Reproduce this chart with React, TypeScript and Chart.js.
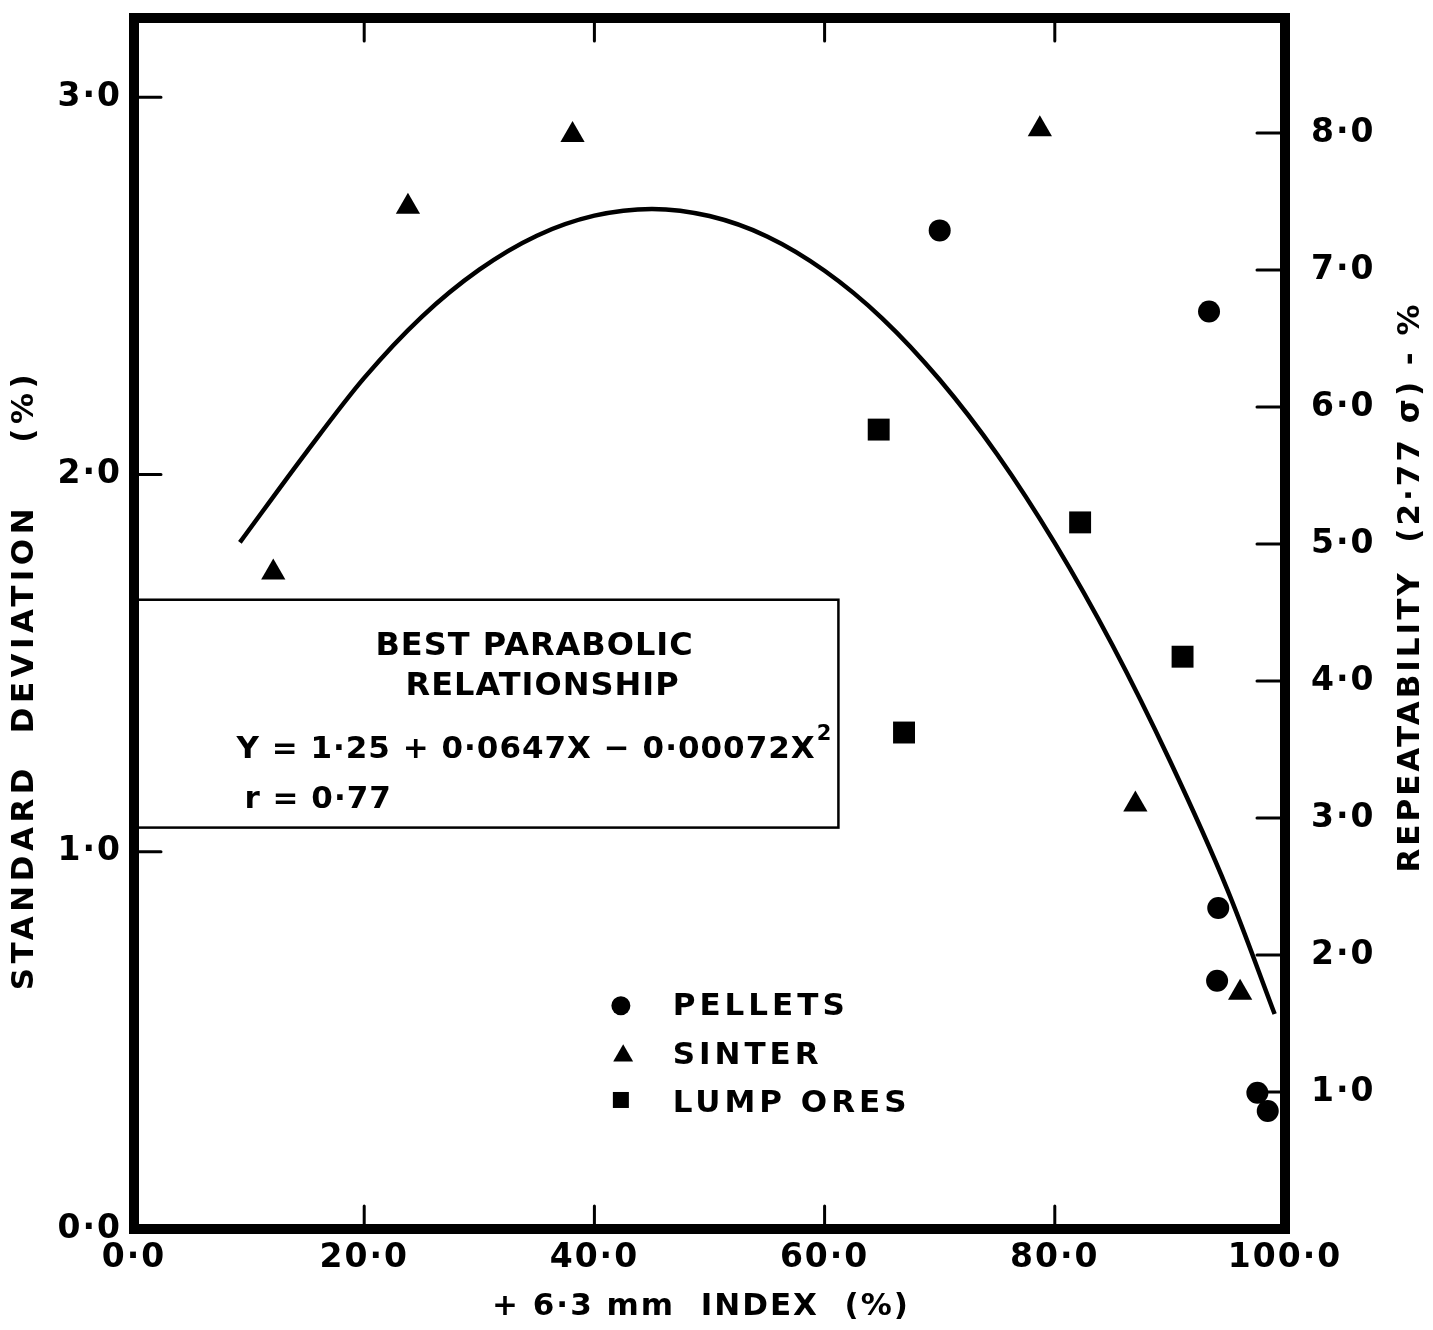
import React, { useEffect, useRef } from 'react';
import { Chart, registerables } from 'chart.js';

Chart.register(...registerables);

// ---------- data ----------
const X_TICKS = [0, 20, 40, 60, 80, 100];
const X_TICK_LABELS = ['0·0', '20·0', '40·0', '60·0', '80·0', '100·0'];
const Y_TICKS = [0, 1, 2, 3];
const Y_TICK_LABELS = ['0·0', '1·0', '2·0', '3·0'];
const Y2_TICKS = [1, 2, 3, 4, 5, 6, 7, 8];
const Y2_TICK_LABELS = ['1·0', '2·0', '3·0', '4·0', '5·0', '6·0', '7·0', '8·0'];

const PELLETS_X = [70.0, 93.4, 94.2, 94.1, 97.6, 98.5];
const PELLETS_Y = [2.647, 2.432, 0.851, 0.658, 0.361, 0.313];

const SINTER_X = [12.1, 23.8, 38.1, 78.7, 87.0, 96.1];
const SINTER_Y = [1.74, 2.71, 2.90, 2.915, 1.125, 0.626];

const LUMP_X = [64.7, 66.9, 82.2, 91.1];
const LUMP_Y = [2.119, 1.316, 1.873, 1.517];

const CURVE_X = [9.2, 15, 20, 25, 30, 35, 40, 45, 50, 55, 60, 65, 70, 75, 80, 85, 90, 95, 99.1];
const CURVE_Y = [1.82, 2.06, 2.256, 2.418, 2.543, 2.633, 2.686, 2.704, 2.685, 2.631, 2.54, 2.414, 2.251, 2.053, 1.818, 1.548, 1.241, 0.899, 0.57];

const LEGEND_LABELS = ['PELLETS', 'SINTER', 'LUMP ORES'];
const NOTE_LINES = ['BEST PARABOLIC', 'RELATIONSHIP', 'Y = 1·25 + 0·0647X − 0·00072X', '2', 'r = 0·77'];

const X_TITLE = '+ 6·3 mm  INDEX  (%)';
const Y_TITLE = 'STANDARD  DEVIATION    (%)';
const Y2_TITLE = 'REPEATABILITY  (2·77 σ) - %';

const FONT = '"DejaVu Sans", sans-serif';

const pts = (xs: number[], ys: number[]) => xs.map((x, i) => ({ x, y: ys[i] }));

function drawText(
  ctx: CanvasRenderingContext2D,
  text: string,
  x: number,
  y: number,
  size: number,
  align: CanvasTextAlign,
  ls: number,
  rotate = 0
): number {
  ctx.save();
  ctx.font = `bold ${size}px ${FONT}`;
  (ctx as any).letterSpacing = `${ls}px`;
  ctx.fillStyle = '#000';
  ctx.textAlign = align;
  ctx.textBaseline = 'middle';
  ctx.translate(x, y);
  if (rotate) ctx.rotate(rotate);
  ctx.fillText(text, 0, 0);
  const w = ctx.measureText(text).width;
  ctx.restore();
  return w;
}

const decorPlugin = {
  id: 'decor',
  beforeDraw(chart: any) {
    (chart.ctx as any).letterSpacing = '2px';
  },
  beforeDatasetsDraw(chart: any) {
    const { ctx, chartArea: ca, scales } = chart;
    const xs = scales.x, ys = scales.y, y2 = scales.y2;
    ctx.save();
    ctx.strokeStyle = '#000';
    ctx.lineWidth = 3;
    ctx.lineCap = 'round';
    ctx.beginPath();
    for (const v of [1, 2, 3]) {
      const py = ys.getPixelForValue(v);
      ctx.moveTo(ca.left + 4, py);
      ctx.lineTo(ca.left + 27, py);
    }
    for (const v of Y2_TICKS) {
      const py = y2.getPixelForValue(v);
      ctx.moveTo(ca.right - 4, py);
      ctx.lineTo(ca.right - 28, py);
    }
    for (const v of [20, 40, 60, 80]) {
      const px = xs.getPixelForValue(v);
      ctx.moveTo(px, ca.top + 4);
      ctx.lineTo(px, ca.top + 23);
      ctx.moveTo(px, ca.bottom - 4);
      ctx.lineTo(px, ca.bottom - 23);
    }
    ctx.stroke();
    ctx.restore();
  },
  afterDraw(chart: any) {
    const { ctx, chartArea: ca, scales } = chart;
    const xs = scales.x, ys = scales.y;
    const X = (v: number) => xs.getPixelForValue(v);
    const Y = (v: number) => ys.getPixelForValue(v);

    // frame
    ctx.save();
    ctx.strokeStyle = '#000';
    ctx.lineWidth = 10;
    ctx.lineJoin = 'miter';
    ctx.strokeRect(ca.left, ca.top, ca.right - ca.left, ca.bottom - ca.top);

    // annotation box
    ctx.lineWidth = 2.5;
    const bx0 = X(0), bx1 = X(61.2), by0 = Y(1.668), by1 = Y(1.064);
    ctx.strokeRect(bx0, by0, bx1 - bx0, by1 - by0);
    ctx.restore();

    drawText(ctx, NOTE_LINES[0], X(34.8), Y(1.544), 32, 'center', 1);
    drawText(ctx, NOTE_LINES[1], X(35.5), Y(1.438), 32, 'center', 1);
    const eqW = drawText(ctx, NOTE_LINES[2], X(8.9), Y(1.271), 31, 'left', 1);
    drawText(ctx, NOTE_LINES[3], X(8.9) + eqW + 1, Y(1.271) - 15, 21, 'left', 0);
    drawText(ctx, NOTE_LINES[4], X(9.6), Y(1.138), 31, 'left', 1);

    // legend
    ctx.save();
    ctx.fillStyle = '#000';
    let cx = X(42.3), cy = Y(0.592);
    ctx.beginPath();
    ctx.arc(cx, cy, 9.5, 0, Math.PI * 2);
    ctx.fill();
    cx = X(42.5); cy = Y(0.459);
    const r = 11.5;
    ctx.beginPath();
    ctx.moveTo(cx, cy - r);
    ctx.lineTo(cx + r * 0.866, cy + r / 2);
    ctx.lineTo(cx - r * 0.866, cy + r / 2);
    ctx.closePath();
    ctx.fill();
    cx = X(42.3); cy = Y(0.342);
    ctx.fillRect(cx - 8, cy - 8, 16, 16);
    ctx.restore();

    drawText(ctx, LEGEND_LABELS[0], X(46.8), Y(0.589), 31, 'left', 4);
    drawText(ctx, LEGEND_LABELS[1], X(46.8), Y(0.459), 31, 'left', 4);
    drawText(ctx, LEGEND_LABELS[2], X(46.8), Y(0.332), 31, 'left', 4);

    // axis titles
    drawText(ctx, Y_TITLE, 25, 680, 31, 'center', 4.5, -Math.PI / 2);
    drawText(ctx, Y2_TITLE, 1411, 587, 31, 'center', 3, -Math.PI / 2);
    drawText(ctx, X_TITLE, 701, 1307, 31, 'center', 2);
  },
};

export default function App() {
  const ref = useRef<HTMLCanvasElement | null>(null);

  useEffect(() => {
    if (!ref.current) return;
    const tickFont = { family: FONT, size: 33, weight: 'bold' as const };
    const vFit = (w: number) => (s: any) => {
      s.width = w;
      s.paddingTop = 0;
      s.paddingBottom = 0;
    };
    const chart = new Chart(ref.current, {
      type: 'scatter',
      data: {
        datasets: [
          {
            label: 'fit',
            data: pts(CURVE_X, CURVE_Y),
            showLine: true,
            borderColor: '#000',
            borderWidth: 4.5,
            pointRadius: 0,
            cubicInterpolationMode: 'monotone',
            fill: false,
          } as any,
          {
            label: LEGEND_LABELS[0],
            data: pts(PELLETS_X, PELLETS_Y),
            pointStyle: 'circle',
            pointRadius: 11,
            pointBackgroundColor: '#000',
            pointBorderWidth: 0,
            backgroundColor: '#000',
            borderColor: '#000',
          },
          {
            label: LEGEND_LABELS[1],
            data: pts(SINTER_X, SINTER_Y),
            pointStyle: 'triangle',
            pointRadius: 14,
            pointBackgroundColor: '#000',
            pointBorderWidth: 0,
            backgroundColor: '#000',
            borderColor: '#000',
          },
          {
            label: LEGEND_LABELS[2],
            data: pts(LUMP_X, LUMP_Y),
            pointStyle: 'rect',
            pointRadius: 15.5,
            pointBackgroundColor: '#000',
            pointBorderWidth: 0,
            backgroundColor: '#000',
            borderColor: '#000',
          },
        ],
      },
      options: {
        animation: false,
        responsive: false,
        maintainAspectRatio: false,
        layout: { padding: { top: 18, left: 0, right: 0, bottom: 0 } },
        plugins: { legend: { display: false }, tooltip: { enabled: false } },
        scales: {
          x: {
            type: 'linear',
            position: 'bottom',
            min: 0,
            max: 100,
            afterBuildTicks: (s: any) => {
              s.ticks = X_TICKS.map((v) => ({ value: v }));
            },
            afterFit: (s: any) => {
              s.height = 101;
              s.paddingLeft = 0;
              s.paddingRight = 0;
            },
            ticks: {
              callback: (v: any) => X_TICK_LABELS[X_TICKS.indexOf(Number(v))] ?? '',
              font: tickFont,
              color: '#000',
              padding: 10,
              maxRotation: 0,
              autoSkip: false,
            },
            grid: { display: false, drawTicks: false, tickLength: 0 },
            border: { display: false },
          },
          y: {
            type: 'linear',
            position: 'left',
            min: 0,
            max: 3.21,
            afterBuildTicks: (s: any) => {
              s.ticks = Y_TICKS.map((v) => ({ value: v }));
            },
            afterFit: vFit(134),
            ticks: {
              callback: (v: any) => Y_TICK_LABELS[Y_TICKS.indexOf(Number(v))] ?? '',
              font: tickFont,
              color: '#000',
              padding: 12,
              autoSkip: false,
            },
            grid: { display: false, drawTicks: false, tickLength: 0 },
            border: { display: false },
          },
          y2: {
            type: 'linear',
            position: 'right',
            min: 0,
            max: 8.84,
            afterBuildTicks: (s: any) => {
              s.ticks = Y2_TICKS.map((v) => ({ value: v }));
            },
            afterFit: vFit(148),
            ticks: {
              callback: (v: any) => Y2_TICK_LABELS[Y2_TICKS.indexOf(Number(v))] ?? '',
              font: tickFont,
              color: '#000',
              padding: 26,
              autoSkip: false,
            },
            grid: { display: false, drawTicks: false, tickLength: 0 },
            border: { display: false },
          },
        },
      } as any,
      plugins: [decorPlugin],
    });
    return () => chart.destroy();
  }, []);

  return (
    <div style={{ position: 'absolute', left: 0, top: 0, width: 1433, height: 1330, background: '#fff' }}>
      <canvas ref={ref} width={1433} height={1330} style={{ display: 'block', width: 1433, height: 1330 }} />
    </div>
  );
}
